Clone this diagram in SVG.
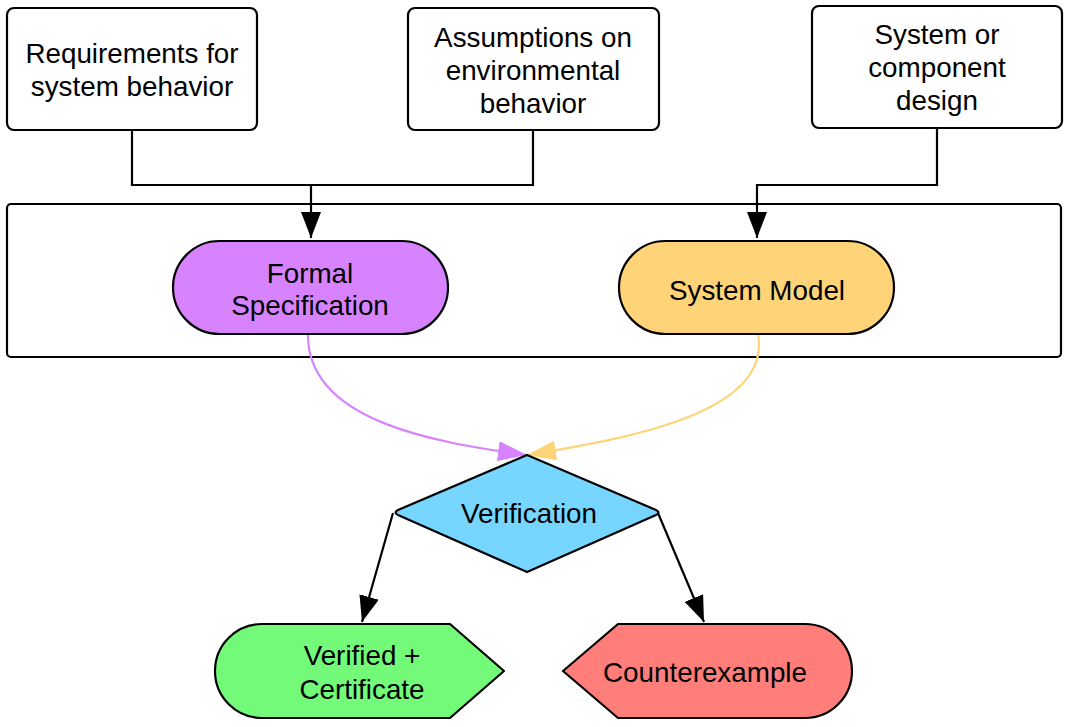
<svg xmlns="http://www.w3.org/2000/svg" width="1069" height="727" viewBox="0 0 1069 727">
<style>
text{font-family:"Liberation Sans",Arial,Helvetica,sans-serif;font-size:27.8px;fill:#000;text-anchor:middle}
.box{fill:#fff;stroke:#000;stroke-width:2.2}
.sh{stroke:#000;stroke-width:2.2;stroke-linejoin:round}
.ln{fill:none;stroke:#000;stroke-width:2.2}
</style>
<defs>
<marker id="ab" markerUnits="userSpaceOnUse" markerWidth="27" markerHeight="20" refX="26" refY="10" orient="auto"><path d="M0,0 L26,10 L0,20 Z" fill="#000"/></marker>
<marker id="ap" markerUnits="userSpaceOnUse" markerWidth="30" markerHeight="20" refX="29" refY="10" orient="auto"><path d="M0,0 L29,10 L0,20 Z" fill="#D783FF"/></marker>
<marker id="ao" markerUnits="userSpaceOnUse" markerWidth="30" markerHeight="20" refX="29" refY="10" orient="auto"><path d="M0,0 L29,10 L0,20 Z" fill="#FFD479"/></marker>
</defs>
<rect id="container" x="7" y="204" width="1054" height="153" rx="4" class="box"/>
<g id="connectors">
<path class="ln" d="M132,130 V185 H533 V130"/>
<path class="ln" d="M311,185 V238" marker-end="url(#ab)"/>
<path class="ln" d="M937,128 V185 H757 V238" marker-end="url(#ab)"/>
<path d="M308,334 C307,420 430,442 527,455" fill="none" stroke="#D783FF" stroke-width="2.2" marker-end="url(#ap)"/>
<path d="M758,334 C772,410 640,437 527,455" fill="none" stroke="#FFD479" stroke-width="2.2" marker-end="url(#ao)"/>
<path class="ln" d="M393,513 L362,622" marker-end="url(#ab)"/>
<path class="ln" d="M658,513 L704,622" marker-end="url(#ab)"/>
</g>
<g id="req">
<rect x="7" y="8" width="250" height="122" rx="7" class="box"/>
<text x="132" y="63">Requirements for</text>
<text x="132" y="96">system behavior</text>
</g>
<g id="assump">
<rect x="408" y="8" width="251" height="122" rx="7" class="box"/>
<text x="533" y="47">Assumptions on</text>
<text x="533" y="80">environmental</text>
<text x="533" y="113">behavior</text>
</g>
<g id="design">
<rect x="812" y="6" width="250" height="122" rx="7" class="box"/>
<text x="937" y="44">System or</text>
<text x="937" y="77">component</text>
<text x="937" y="110">design</text>
</g>
<g id="formal">
<rect x="173" y="241" width="275" height="93" rx="46.5" fill="#D783FF" class="sh"/>
<text x="310" y="283">Formal</text>
<text x="310" y="315">Specification</text>
</g>
<g id="model">
<rect x="619" y="241" width="275" height="93" rx="46.5" fill="#FFD479" class="sh"/>
<text x="757" y="300">System Model</text>
</g>
<g id="verification">
<path d="M527,455 L656,510 Q661,512.5 656,515 L527,572 L398,515 Q393,512.5 398,510 Z" fill="#76D6FF" class="sh"/>
<text x="529" y="523">Verification</text>
</g>
<g id="verified">
<path d="M262,624 L450,624 L504,671 L450,718 L262,718 A47,47 0 0 1 262,624 Z" fill="#73FA79" class="sh"/>
<text x="362" y="665">Verified +</text>
<text x="362" y="699">Certificate</text>
</g>
<g id="counter">
<path d="M618,624 L805,624 A47,47 0 0 1 805,718 L618,718 L563,671 Z" fill="#FF7E79" class="sh"/>
<text x="705" y="682">Counterexample</text>
</g>
</svg>
